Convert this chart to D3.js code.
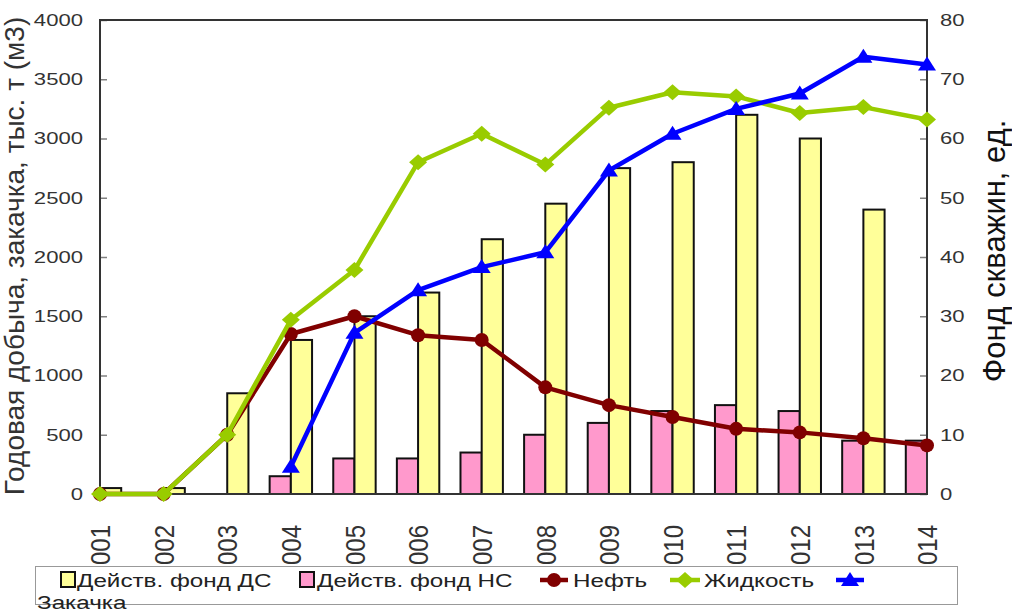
<!DOCTYPE html>
<html>
<head>
<meta charset="utf-8">
<script src="https://cdn.jsdelivr.net/npm/d3@7"></script>
<style>
  html, body { margin: 0; padding: 0; background: #fff; }
  svg { display: block; font-family: "Liberation Sans", Arial, sans-serif; }
  .year-labels text { font-kerning: none; }
</style>
</head>
<body>
<svg id="chart" width="1012" height="613"></svg>
<script>
// Годы
const years = [2001, 2002, 2003, 2004, 2005, 2006, 2007, 2008, 2009, 2010, 2011, 2012, 2013, 2014];
// Действующий фонд добывающих скважин (ДС), ед.
const fundDS = [1, 1, 17, 26, 30, 34, 43, 49, 55, 56, 64, 60, 48, null];
// Действующий фонд нагнетательных скважин (НС), ед.
const fundNS = [null, null, null, 3, 6, 6, 7, 10, 12, 14, 15, 14, 9, 9];
// Годовая добыча нефти, тыс. т
const oil = [0, 0, 500, 1350, 1500, 1340, 1300, 900, 750, 650, 550, 520, 470, 410];
// Годовая добыча жидкости, тыс. т
const liquid = [0, 0, 500, 1470, 1890, 2800, 3040, 2780, 3260, 3390, 3355, 3215, 3265, 3160];
// Годовая закачка, тыс. м3
const injection = [null, null, null, 230, 1360, 1720, 1915, 2040, 2730, 3040, 3250, 3380, 3690, 3625];
// Подписи делений
const leftTicks = [0, 500, 1000, 1500, 2000, 2500, 3000, 3500, 4000];
const rightTicks = [0, 10, 20, 30, 40, 50, 60, 70, 80];

const C = {
  ds: "#ffff99", ns: "#ff99cc", oil: "#800000", liq: "#99cc00", inj: "#0000ff",
  frame: "#333333", text: "#333333", tick: "#808080"
};

const svg = d3.select("#chart");
const plot = { left: 100, right: 927, top: 20, bottom: 494 };

const x = d3.scalePoint().domain(years).range([plot.left, plot.right]).padding(0);
const yL = d3.scaleLinear().domain([0, 4000]).range([plot.bottom, plot.top]);
const yR = d3.scaleLinear().domain([0, 80]).range([plot.bottom, plot.top]);
const barW = x.step() / 3;

svg.append("defs").append("clipPath").attr("id", "plotClip")
  .append("rect")
  .attr("x", plot.left).attr("y", plot.top)
  .attr("width", plot.right - plot.left).attr("height", plot.bottom - plot.top);

// Столбцы фонда скважин (правая ось)
const bars = svg.append("g").attr("clip-path", "url(#plotClip)");
bars.selectAll("rect.ns")
  .data(years.map((yr, i) => ({ yr, v: fundNS[i] })).filter(d => d.v != null))
  .join("rect").attr("class", "ns")
  .attr("x", d => x(d.yr) - barW).attr("width", barW)
  .attr("y", d => yR(d.v)).attr("height", d => yR(0) - yR(d.v))
  .attr("fill", C.ns).attr("stroke", "#111").attr("stroke-width", 2);
bars.selectAll("rect.ds")
  .data(years.map((yr, i) => ({ yr, v: fundDS[i] })).filter(d => d.v != null))
  .join("rect").attr("class", "ds")
  .attr("x", d => x(d.yr)).attr("width", barW)
  .attr("y", d => yR(d.v)).attr("height", d => yR(0) - yR(d.v))
  .attr("fill", C.ds).attr("stroke", "#111").attr("stroke-width", 2);

// Оси
const sxTick = 1.3;
const gL = svg.append("g").attr("transform", `translate(${plot.left},0)`)
  .call(d3.axisLeft(yL).tickValues(leftTicks).tickSizeInner(-7).tickSizeOuter(0).tickFormat(d3.format("d")));
const gR = svg.append("g").attr("transform", `translate(${plot.right},0)`)
  .call(d3.axisRight(yR).tickValues(rightTicks).tickSizeInner(-7).tickSizeOuter(0).tickFormat(d3.format("d")));
[gL, gR].forEach(g => {
  g.select(".domain").remove();
  g.selectAll(".tick line").attr("stroke", C.tick).attr("stroke-width", 1.5);
  g.selectAll(".tick text").attr("fill", C.text).attr("font-size", 17)
    .attr("font-family", "Liberation Sans, Arial, sans-serif");
});
gL.selectAll(".tick text").attr("x", -17 / sxTick).attr("transform", `scale(${sxTick},1)`);
gR.selectAll(".tick text").attr("x", 13 / sxTick).attr("transform", `scale(${sxTick},1)`);

// Рамка области построения
svg.append("rect")
  .attr("x", plot.left).attr("y", plot.top)
  .attr("width", plot.right - plot.left).attr("height", plot.bottom - plot.top)
  .attr("fill", "none").attr("stroke", C.frame).attr("stroke-width", 2);

// Подписи годов
const gX = svg.append("g").attr("class", "year-labels").attr("transform", `translate(0,${plot.bottom})`)
  .call(d3.axisBottom(x).tickSize(0).tickFormat(d3.format("d")));
gX.select(".domain").remove();
gX.selectAll(".tick text")
  .attr("font-size", 24).attr("fill", C.text).attr("font-family", "Liberation Sans, Arial, sans-serif")
  .attr("text-anchor", "end").attr("x", 0).attr("y", 0).attr("dy", "0.35em")
  .attr("transform", "translate(0,31) scale(1.16,1) rotate(-90)");

// Линии
function series(vals, axis) {
  return years.map((yr, i) => ({ yr, v: vals[i] })).filter(d => d.v != null)
    .map(d => [x(d.yr), axis(d.v)]);
}
const line = d3.line();
const sym = {
  circle: (g, p, c) => g.append("circle").attr("cx", p[0]).attr("cy", p[1]).attr("r", 7).attr("fill", c),
  diamond: (g, p, c) => g.append("path")
    .attr("d", `M${p[0]},${p[1] - 8}L${p[0] + 9},${p[1]}L${p[0]},${p[1] + 8}L${p[0] - 9},${p[1]}Z`).attr("fill", c),
  triangle: (g, p, c) => g.append("path")
    .attr("d", `M${p[0]},${p[1] - 8}L${p[0] + 9},${p[1] + 6}L${p[0] - 9},${p[1] + 6}Z`).attr("fill", c)
};
[[oil, C.oil, "circle"], [liquid, C.liq, "diamond"], [injection, C.inj, "triangle"]].forEach(([vals, col, m]) => {
  const pts = series(vals, yL);
  const g = svg.append("g");
  g.append("path").attr("d", line(pts)).attr("fill", "none").attr("stroke", col)
    .attr("stroke-width", 4.5).attr("stroke-linejoin", "round");
  pts.forEach(p => sym[m](g, p, col));
});

// Заголовки осей
svg.append("text").text("Годовая добыча, закачка, тыс. т (м3)")
  .attr("transform", "translate(24,256) rotate(-90)")
  .attr("text-anchor", "middle").attr("font-size", 28).attr("fill", C.text);
svg.append("text").text("Фонд скважин, ед.")
  .attr("transform", "translate(1005,251) rotate(-90)")
  .attr("text-anchor", "middle").attr("font-size", 31).attr("fill", "#111");

// Легенда
const sxLeg = 1.31;
const leg = svg.append("g");
leg.append("rect").attr("x", 35.5).attr("y", 566.5).attr("width", 922).attr("height", 38)
  .attr("fill", "#fff").attr("stroke", "#999").attr("stroke-width", 1);
function legText(t, tx, ty) {
  leg.append("text").text(t).attr("transform", `translate(${tx},${ty}) scale(${sxLeg},1)`)
    .attr("font-size", 18.5).attr("fill", "#222");
}
const ly = 580, base = 587;
leg.append("rect").attr("x", 61).attr("y", 572).attr("width", 14).attr("height", 15)
  .attr("fill", C.ds).attr("stroke", "#111").attr("stroke-width", 2);
legText("Действ. фонд ДС", 77, base);
leg.append("rect").attr("x", 300).attr("y", 572).attr("width", 14).attr("height", 15)
  .attr("fill", C.ns).attr("stroke", "#111").attr("stroke-width", 2);
legText("Действ. фонд НС", 317, base);
leg.append("line").attr("x1", 540).attr("x2", 568).attr("y1", ly).attr("y2", ly).attr("stroke", C.oil).attr("stroke-width", 4.5);
sym.circle(leg, [554, ly], C.oil);
legText("Нефть", 573, base);
leg.append("line").attr("x1", 670).attr("x2", 700).attr("y1", ly).attr("y2", ly).attr("stroke", C.liq).attr("stroke-width", 4.5);
sym.diamond(leg, [685, ly], C.liq);
legText("Жидкость", 704, base);
leg.append("line").attr("x1", 836).attr("x2", 864).attr("y1", ly).attr("y2", ly).attr("stroke", C.inj).attr("stroke-width", 4.5);
sym.triangle(leg, [850, ly], C.inj);
legText("Закачка", 37, 609);
</script>
</body>
</html>
